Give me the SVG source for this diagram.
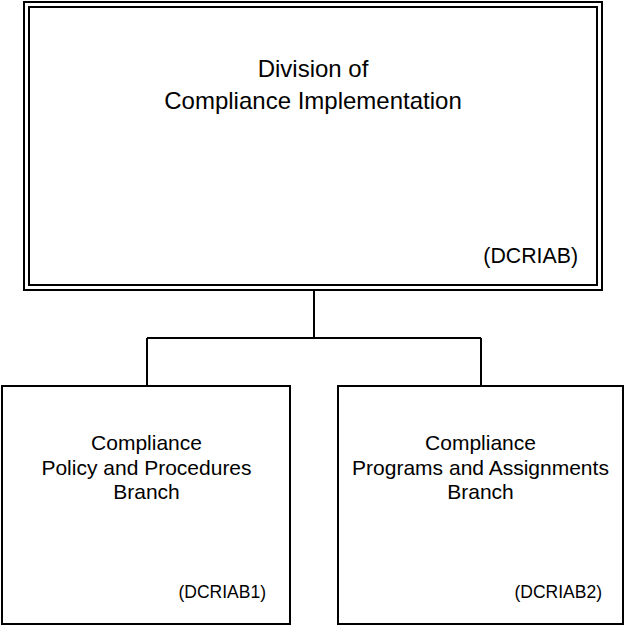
<svg xmlns="http://www.w3.org/2000/svg" width="625" height="626" viewBox="0 0 625 626">
<style>
.box{fill:#fff;stroke:#000;stroke-width:2}
.ln{fill:none;stroke:#000;stroke-width:2}
text{font-family:"Liberation Sans",Arial,sans-serif;fill:#000}
.t1{font-size:24px;text-anchor:middle}
.t2{font-size:21px;text-anchor:middle}
.c1{font-size:21.3px;text-anchor:end}
.c2{font-size:17.5px;text-anchor:end}
</style>
<rect width="625" height="626" fill="#fff"/>
<g id="connectors">
<path class="ln" d="M314 290 V338 M147 338 H481 M147 338 V386 M481 338 V386"/>
</g>
<g id="dcriab">
<rect class="box" x="24" y="2" width="578" height="288"/>
<rect class="box" x="29" y="7" width="568" height="278"/>
<text class="t1" x="313" y="77">Division of</text>
<text class="t1" x="313" y="109">Compliance Implementation</text>
<text class="c1" x="578" y="263">(DCRIAB)</text>
</g>
<g id="dcriab1">
<rect class="box" x="2" y="386" width="288" height="238"/>
<text class="t2" x="146.5" y="450">Compliance</text>
<text class="t2" x="146.5" y="475">Policy and Procedures</text>
<text class="t2" x="146.5" y="499">Branch</text>
<text class="c2" x="266" y="598">(DCRIAB1)</text>
</g>
<g id="dcriab2">
<rect class="box" x="338" y="386" width="285" height="238"/>
<text class="t2" x="480.5" y="450">Compliance</text>
<text class="t2" x="480.5" y="475">Programs and Assignments</text>
<text class="t2" x="480.5" y="499">Branch</text>
<text class="c2" x="602" y="598">(DCRIAB2)</text>
</g>
</svg>
